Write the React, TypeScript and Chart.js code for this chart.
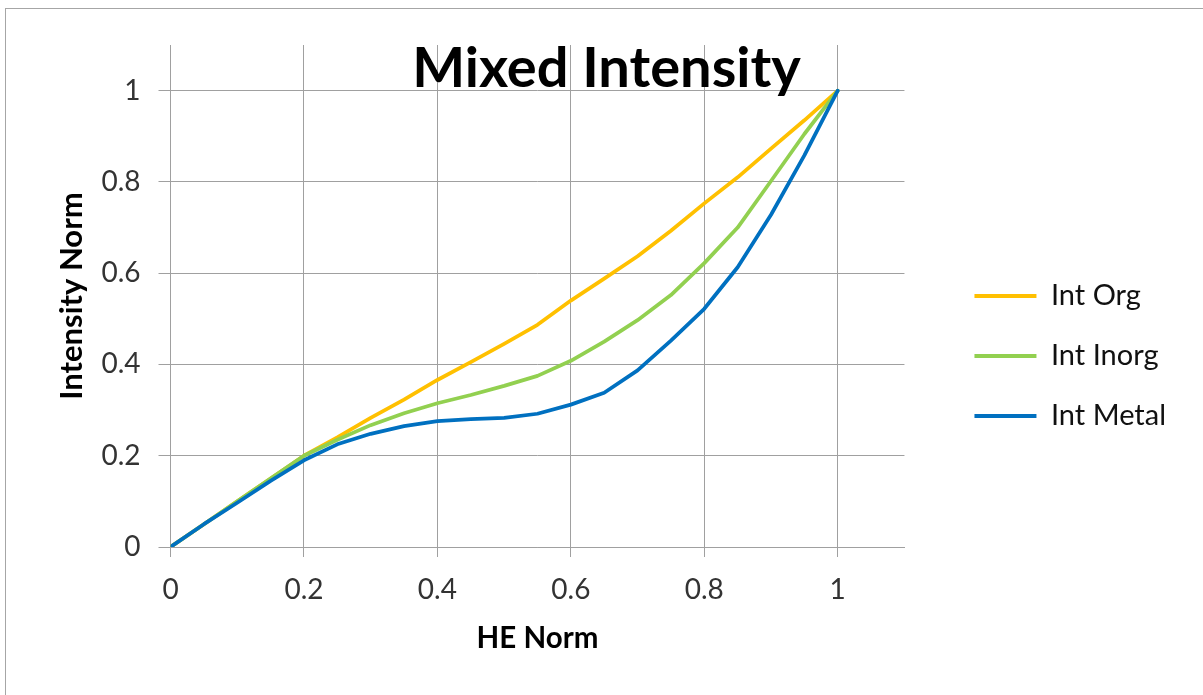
import React, { useEffect, useRef } from 'react';
import { Chart, registerables } from 'chart.js';

Chart.register(...registerables);

// ---- data ----
const heNorm = [0, 0.05, 0.1, 0.15, 0.2, 0.25, 0.3, 0.35, 0.4, 0.45, 0.5, 0.55, 0.6, 0.65, 0.7, 0.75, 0.8, 0.85, 0.9, 0.95, 1];
const intOrg = [0, 0.05, 0.1, 0.15, 0.2, 0.24, 0.283, 0.323, 0.366, 0.405, 0.445, 0.487, 0.54, 0.588, 0.637, 0.693, 0.753, 0.81, 0.873, 0.935, 1];
const intInorg = [0, 0.05, 0.1, 0.15, 0.2, 0.235, 0.267, 0.293, 0.315, 0.333, 0.353, 0.375, 0.408, 0.45, 0.497, 0.552, 0.622, 0.7, 0.802, 0.905, 1];
const intMetal = [0, 0.05, 0.097, 0.145, 0.19, 0.225, 0.248, 0.265, 0.276, 0.28, 0.283, 0.292, 0.312, 0.338, 0.387, 0.452, 0.522, 0.613, 0.728, 0.858, 1];
const seriesNames = ['Int Org', 'Int Inorg', 'Int Metal'];
const seriesColors = ['#FFC000', '#92D050', '#0070C0'];
const axisTicks = [0, 0.2, 0.4, 0.6, 0.8, 1];
const chartTitle = 'Mixed Intensity';
const xTitle = 'HE Norm';
const yTitle = 'Intensity Norm';

const GRID = '#a0a0a0';
const fmt = (v: number) => String(Math.round(v * 10) / 10);

export default function App() {
  const ref = useRef<HTMLCanvasElement>(null);

  useEffect(() => {
    if (!ref.current) return;
    const series = [intOrg, intInorg, intMetal];
    const datasets = series.map((vals, i) => ({
      label: seriesNames[i],
      data: heNorm.map((x, j) => ({ x, y: vals[j] })),
      borderColor: seriesColors[i],
      backgroundColor: seriesColors[i],
      borderWidth: 3.75,
      pointRadius: 0,
      tension: 0,
      fill: false,
      borderJoinStyle: 'round' as const,
      borderCapStyle: 'round' as const,
      order: 3 - i,
    }));

    const chart = new Chart(ref.current, {
      type: 'line',
      data: { datasets },
      options: {
        animation: false,
        responsive: true,
        maintainAspectRatio: false,
        devicePixelRatio: 1,
        layout: { padding: 0 },
        plugins: {
          tooltip: { enabled: false },
          title: {
            display: true,
            text: chartTitle,
            color: '#000',
            font: { family: 'Lato', size: 56, weight: 'bold', lineHeight: 1.2 },
            padding: { top: 26.7, bottom: -57.9 },
          },
          legend: {
            position: 'right',
            align: 'center',
            maxWidth: 400,
            title: { display: true, text: ' ', font: { size: 5, lineHeight: 1.2 }, padding: { top: 1, bottom: 1 } },
            labels: {
              boxWidth: 62,
              boxHeight: 4,
              padding: 31,
              color: '#111',
              font: { family: 'Lato', size: 29 },
              sort: (a: any, b: any) => a.datasetIndex - b.datasetIndex,
              generateLabels: (c: any) =>
                Chart.defaults.plugins.legend.labels.generateLabels(c).map((l: any) => ({ ...l, lineWidth: 0 })),
            },
          },
        },
        scales: {
          x: {
            type: 'linear',
            min: 0,
            max: 1.1,
            ticks: {
              stepSize: 0.2,
              includeBounds: false,
              maxRotation: 0,
              padding: 16,
              color: '#333',
              font: { family: 'Lato', size: 28 },
              callback: (v: any) => fmt(Number(v)),
            },
            afterBuildTicks: (s: any) => {
              s.ticks = axisTicks.map((v) => ({ value: v }));
            },
            grid: { color: GRID, lineWidth: 1, tickLength: 10, drawTicks: true },
            border: { color: GRID, width: 1 },
            title: {
              display: true,
              text: xTitle,
              color: '#000',
              font: { family: 'Lato', size: 29.5, weight: 'bold', lineHeight: 1.2 },
              padding: { top: 0, bottom: 39 },
            },
            afterFit: (s: any) => {
              s.height = 148;
            },
          },
          y: {
            type: 'linear',
            min: 0,
            max: 1.1,
            ticks: {
              stepSize: 0.2,
              includeBounds: false,
              padding: 18,
              color: '#333',
              font: { family: 'Lato', size: 28 },
              callback: (v: any) => fmt(Number(v)),
            },
            afterBuildTicks: (s: any) => {
              s.ticks = axisTicks.map((v) => ({ value: v }));
            },
            grid: { color: GRID, lineWidth: 1, tickLength: 12, drawTicks: true },
            border: { color: GRID, width: 1 },
            title: {
              display: true,
              text: yTitle,
              color: '#000',
              font: { family: 'Lato', size: 31, weight: 'bold', lineHeight: 1.2 },
              padding: { top: 47, bottom: 0 },
            },
            afterFit: (s: any) => {
              s.width = 164.5;
            },
          },
          gapBeforeLegend: {
            type: 'linear',
            position: 'right',
            display: true,
            weight: 0,
            grid: { display: false, drawTicks: false },
            ticks: { display: false },
            border: { display: false },
            afterFit: (s: any) => {
              s.width = 39;
            },
          },
          gapAfterLegend: {
            type: 'linear',
            position: 'right',
            display: true,
            weight: 2000,
            grid: { display: false, drawTicks: false },
            ticks: { display: false },
            border: { display: false },
            afterFit: (s: any) => {
              s.width = 31;
            },
          },
        },
      } as any,
    });
    return () => chart.destroy();
  }, []);

  return (
    <div
      style={{
        position: 'fixed',
        left: 5,
        top: 8,
        width: 1220,
        height: 700,
        border: '1px solid #a6a6a6',
        background: '#fff',
      }}
    >
      <div style={{ position: 'absolute', left: 0, top: 0, width: 1201, height: 686 }}>
        <canvas ref={ref} />
      </div>
    </div>
  );
}
